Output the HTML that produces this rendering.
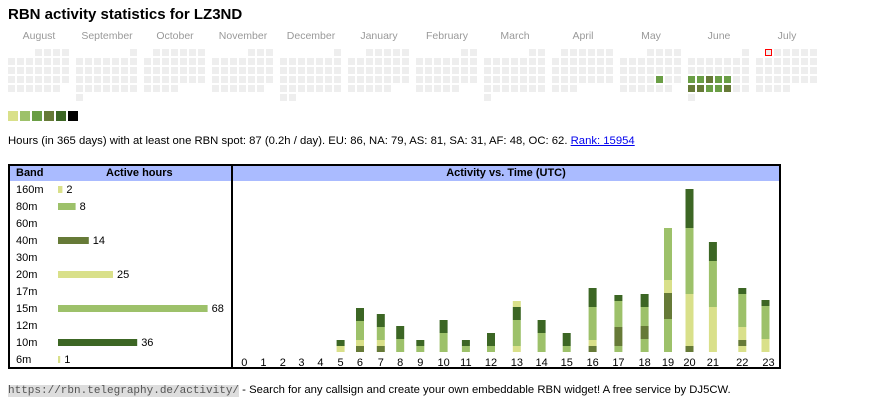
<!DOCTYPE html>
<html><head><meta charset="utf-8"><style>
body{margin:0;width:870px;height:407px;background:#fff;font-family:"Liberation Sans",sans-serif;position:relative;overflow:hidden}
.a{position:absolute;white-space:nowrap}
</style></head><body>
<div class="a" style="left:8px;top:6px;font-size:15px;font-weight:bold;color:#000">RBN activity statistics for LZ3ND</div>
<svg class="a" style="left:0;top:0" width="870" height="407" id="s"></svg>
<div class="a" style="left:8px;top:135px;font-size:11.3px;color:#000">Hours (in 365 days) with at least one RBN spot: 87 (0.2h / day). EU: 86, NA: 79, AS: 81, SA: 31, AF: 48, OC: 62. <span style="color:#00e;text-decoration:underline">Rank: 15954</span></div>
<div class="a" style="left:8px;top:164px;width:221px;height:201px;border:2px solid #000"></div>
<div class="a" style="left:231px;top:164px;width:546px;height:201px;border:2px solid #000"></div>
<div class="a" style="left:10px;top:166px;width:221px;height:15px;background:#aabbff"></div>
<div class="a" style="left:233px;top:166px;width:546px;height:15px;background:#aabbff"></div>
<div class="a" style="left:16px;top:167px;font-size:11px;font-weight:bold">Band</div>
<div class="a" style="left:106px;top:167px;font-size:11px;font-weight:bold">Active hours</div>
<div class="a" style="left:233px;top:167px;width:546px;text-align:center;font-size:11px;font-weight:bold">Activity vs. Time (UTC)</div>
<div class="a" style="left:8px;top:384px;font-size:11.3px"><span style="font-family:'Liberation Mono',monospace;background:#ddd;color:#555;font-size:11px">https://rbn.telegraphy.de/activity/</span> - Search for any callsign and create your own embeddable RBN widget! A free service by DJ5CW.</div>
<svg class="a" style="left:0;top:0;z-index:5" width="870" height="407">
<g>
<rect x="336.6" y="346" width="8" height="6" fill="#d9e08a"/><rect x="336.6" y="340" width="8" height="6" fill="#3c6624"/>
<rect x="356" y="346" width="8" height="6" fill="#667a37"/><rect x="356" y="340" width="8" height="6" fill="#d9e08a"/><rect x="356" y="321" width="8" height="19" fill="#9dc16a"/><rect x="356" y="308" width="8" height="13" fill="#3c6624"/>
<rect x="376.8" y="346" width="8" height="6" fill="#667a37"/><rect x="376.8" y="340" width="8" height="6" fill="#d9e08a"/><rect x="376.8" y="327" width="8" height="13" fill="#9dc16a"/><rect x="376.8" y="314" width="8" height="13" fill="#3c6624"/>
<rect x="396.2" y="339" width="8" height="13" fill="#9dc16a"/><rect x="396.2" y="326" width="8" height="13" fill="#3c6624"/>
<rect x="416.3" y="346" width="8" height="6" fill="#9dc16a"/><rect x="416.3" y="340" width="8" height="6" fill="#3c6624"/>
<rect x="439.6" y="333" width="8" height="19" fill="#9dc16a"/><rect x="439.6" y="320" width="8" height="13" fill="#3c6624"/>
<rect x="461.9" y="346" width="8" height="6" fill="#9dc16a"/><rect x="461.9" y="340" width="8" height="6" fill="#3c6624"/>
<rect x="487" y="346" width="8" height="6" fill="#9dc16a"/><rect x="487" y="333" width="8" height="13" fill="#3c6624"/>
<rect x="512.8" y="346" width="8" height="6" fill="#d9e08a"/><rect x="512.8" y="320" width="8" height="26" fill="#9dc16a"/><rect x="512.8" y="307" width="8" height="13" fill="#3c6624"/><rect x="512.8" y="301" width="8" height="6" fill="#d9e08a"/>
<rect x="537.6" y="333" width="8" height="19" fill="#9dc16a"/><rect x="537.6" y="320" width="8" height="13" fill="#3c6624"/>
<rect x="562.7" y="346" width="8" height="6" fill="#9dc16a"/><rect x="562.7" y="333" width="8" height="13" fill="#3c6624"/>
<rect x="588.6" y="346" width="8" height="6" fill="#667a37"/><rect x="588.6" y="340" width="8" height="6" fill="#d9e08a"/><rect x="588.6" y="307" width="8" height="33" fill="#9dc16a"/><rect x="588.6" y="288" width="8" height="19" fill="#3c6624"/>
<rect x="614.4" y="346" width="8" height="6" fill="#9dc16a"/><rect x="614.4" y="327" width="8" height="19" fill="#667a37"/><rect x="614.4" y="301" width="8" height="26" fill="#9dc16a"/><rect x="614.4" y="295" width="8" height="6" fill="#3c6624"/>
<rect x="640.6" y="339" width="8" height="13" fill="#9dc16a"/><rect x="640.6" y="326" width="8" height="13" fill="#667a37"/><rect x="640.6" y="307" width="8" height="19" fill="#9dc16a"/><rect x="640.6" y="294" width="8" height="13" fill="#3c6624"/>
<rect x="664" y="319" width="8" height="33" fill="#9dc16a"/><rect x="664" y="293" width="8" height="26" fill="#667a37"/><rect x="664" y="280" width="8" height="13" fill="#d9e08a"/><rect x="664" y="228" width="8" height="52" fill="#9dc16a"/>
<rect x="685.5" y="346" width="8" height="6" fill="#667a37"/><rect x="685.5" y="294" width="8" height="52" fill="#d9e08a"/><rect x="685.5" y="228" width="8" height="66" fill="#9dc16a"/><rect x="685.5" y="189" width="8" height="39" fill="#3c6624"/>
<rect x="708.9" y="307" width="8" height="45" fill="#d9e08a"/><rect x="708.9" y="261" width="8" height="46" fill="#9dc16a"/><rect x="708.9" y="242" width="8" height="19" fill="#3c6624"/>
<rect x="738.3" y="346" width="8" height="6" fill="#d9e08a"/><rect x="738.3" y="340" width="8" height="6" fill="#667a37"/><rect x="738.3" y="327" width="8" height="13" fill="#d9e08a"/><rect x="738.3" y="294" width="8" height="33" fill="#9dc16a"/><rect x="738.3" y="288" width="8" height="6" fill="#3c6624"/>
<rect x="761.5" y="339" width="8" height="13" fill="#d9e08a"/><rect x="761.5" y="306" width="8" height="33" fill="#9dc16a"/><rect x="761.5" y="300" width="8" height="6" fill="#3c6624"/>
</g>
<rect x="765.5" y="49.5" width="6" height="6" fill="#eee" stroke="#ff0000" stroke-width="1"/>
</svg>
<script>
var s=document.getElementById('s'),h='';
var Y='#d9e08a',L='#9dc16a',O='#667a37',D='#3c6624',M='#6a9e45';
function r(x,y,w,hh,c){h+='<rect x="'+x+'" y="'+y+'" width="'+w+'" height="'+hh+'" fill="'+c+'"/>';}
function t(x,y,txt,sz,c,anc){h+='<text x="'+x+'" y="'+y+'" font-size="'+sz+'" fill="'+c+'" text-anchor="'+(anc||'start')+'" font-family="Liberation Sans, sans-serif">'+txt+'</text>';}
var months=['August','September','October','November','December','January','February','March','April','May','June','July'];
var pat=[[3,3,5],[6,4,0],[1,3,3],[4,3,5],[6,4,1],[2,3,4],[5,3,4],[5,4,0],[1,3,2],[3,3,5],[6,4,0],[1,3,3]];
for(var m=0;m<12;m++){var x0=8+68*m;t(x0+31,39,months[m],10.5,'#999','middle');
 var p=pat[m];
 for(var c=p[0];c<7;c++)r(x0+9*c,49,7,7,'#eee');
 for(var ww=1;ww<=p[1];ww++)for(var c=0;c<7;c++)r(x0+9*c,49+9*ww,7,7,'#eee');
 for(var c=0;c<=p[2];c++)r(x0+9*c,49+9*(p[1]+1),7,7,'#eee');}
r(656,76,7,7,M);
var j1=[M,M,O,M,M],j2=[O,O,M,M,O];
for(var c=0;c<5;c++){r(688+9*c,76,7,7,j1[c]);r(688+9*c,85,7,7,j2[c]);}
var lc=[Y,L,M,O,D,'#000'];for(var i=0;i<6;i++)r(8+12*i,111,10,10,lc[i]);
var bands=[['160m',2,Y],['80m',8,L],['60m',0],['40m',14,O],['30m',0],['20m',25,Y],['17m',0],['15m',68,L],['12m',0],['10m',36,D],['6m',1,Y]];
for(var i=0;i<bands.length;i++){var yy=189+17*i,b=bands[i];t(16,yy+4,b[0],11,'#000');
 if(b[1]){var bw=b[1]*2.2;r(58,yy-3,bw,7,b[2]);t(58+bw+4,yy+4,b[1],11,'#000');}}
var cx=[40,93,147,199,252,308,362,420,474,530,595,657,727,799,868,938,1010,1082,1155,1220,1280,1345,1427,1500];
for(var k=0;k<24;k++){var X=230+cx[k]*0.359;t(X,366,k,11,'#000','middle');}
s.innerHTML=h;
</script>
</body></html>
